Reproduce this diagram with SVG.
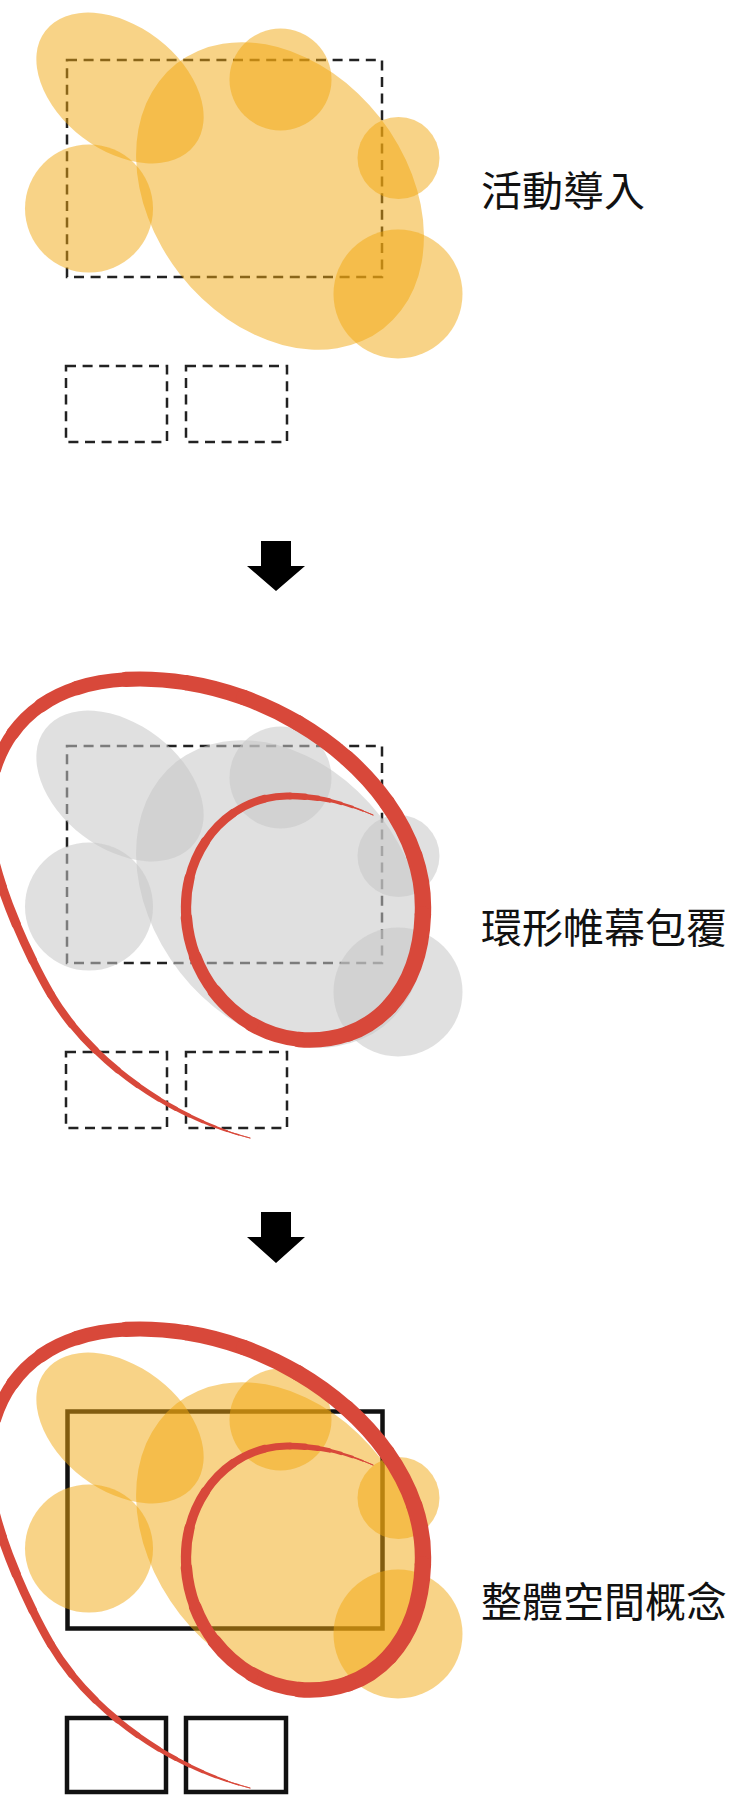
<svg xmlns="http://www.w3.org/2000/svg" xmlns:xlink="http://www.w3.org/1999/xlink" width="734" height="1796" viewBox="0 0 734 1796">
<style>
.o{fill:#f1a70f;fill-opacity:.5}
.g{fill:#c7c7c7;fill-opacity:.55}
.d{fill:none;stroke:#222;stroke-width:2.5;stroke-dasharray:10 6.6}
.s{fill:none;stroke:#111;stroke-width:4.5}
.t{font-family:"Noto Sans CJK TC","Noto Sans CJK SC",sans-serif;font-size:41px;fill:#111}
.r{fill:none;stroke:#d8483a;stroke-linecap:round}
.a{fill:#000}
</style>
<defs>
<g id="blobs">
<ellipse cx="280" cy="196" rx="168" ry="127" transform="rotate(52 280 196)"/>
<ellipse cx="120" cy="88" rx="94" ry="62" transform="rotate(37.4 120 88)"/>
<circle cx="280.5" cy="79.5" r="51"/>
<circle cx="398.5" cy="158" r="41"/>
<circle cx="89" cy="208.5" r="64"/>
<circle cx="398" cy="294" r="64.5"/>
</g>
<path id="sp" pathLength="1726" d="M250,1138 C172,1118 90,1062 50,993 C28,955 -12,870 -12,818 C-12,745 30,679 140,679 C285,679 423,790 423,907 C423,987 378,1040 310,1040 C242,1040 186,980 186,907 C186,846 231,796 287,796 C320,796 345,803 373,815"/>
<g id="spiral" class="r">
<use href="#sp" stroke-width="0.8"/>
<use href="#sp" stroke-width="0.9" stroke-dasharray="12 4000" stroke-dashoffset="0"/>
<use href="#sp" stroke-width="1.4" stroke-dasharray="12 4000" stroke-dashoffset="-12"/>
<use href="#sp" stroke-width="2" stroke-dasharray="12 4000" stroke-dashoffset="-24"/>
<use href="#sp" stroke-width="2.5" stroke-dasharray="14 4000" stroke-dashoffset="-36"/>
<use href="#sp" stroke-width="3.1" stroke-dasharray="15 4000" stroke-dashoffset="-50"/>
<use href="#sp" stroke-width="3.8" stroke-dasharray="15 4000" stroke-dashoffset="-65"/>
<use href="#sp" stroke-width="4.5" stroke-dasharray="20 4000" stroke-dashoffset="-80"/>
<use href="#sp" stroke-width="5.1" stroke-dasharray="25 4000" stroke-dashoffset="-100"/>
<use href="#sp" stroke-width="5.7" stroke-dasharray="25 4000" stroke-dashoffset="-125"/>
<use href="#sp" stroke-width="6.4" stroke-dasharray="30 4000" stroke-dashoffset="-150"/>
<use href="#sp" stroke-width="7" stroke-dasharray="35 4000" stroke-dashoffset="-180"/>
<use href="#sp" stroke-width="7.7" stroke-dasharray="36 4000" stroke-dashoffset="-215"/>
<use href="#sp" stroke-width="8.2" stroke-dasharray="39 4000" stroke-dashoffset="-251"/>
<use href="#sp" stroke-width="8.7" stroke-dasharray="40 4000" stroke-dashoffset="-290"/>
<use href="#sp" stroke-width="9.3" stroke-dasharray="40 4000" stroke-dashoffset="-330"/>
<use href="#sp" stroke-width="9.8" stroke-dasharray="40 4000" stroke-dashoffset="-370"/>
<use href="#sp" stroke-width="10.4" stroke-dasharray="40 4000" stroke-dashoffset="-410"/>
<use href="#sp" stroke-width="11.2" stroke-dasharray="40 4000" stroke-dashoffset="-450"/>
<use href="#sp" stroke-width="12.2" stroke-dasharray="40 4000" stroke-dashoffset="-490"/>
<use href="#sp" stroke-width="13" stroke-dasharray="40 4000" stroke-dashoffset="-530"/>
<use href="#sp" stroke-width="13.8" stroke-dasharray="40 4000" stroke-dashoffset="-570"/>
<use href="#sp" stroke-width="14.5" stroke-dasharray="50 4000" stroke-dashoffset="-610"/>
<use href="#sp" stroke-width="15.1" stroke-dasharray="60 4000" stroke-dashoffset="-660"/>
<use href="#sp" stroke-width="15.3" stroke-dasharray="60 4000" stroke-dashoffset="-720"/>
<use href="#sp" stroke-width="15.5" stroke-dasharray="60 4000" stroke-dashoffset="-780"/>
<use href="#sp" stroke-width="15.8" stroke-dasharray="60 4000" stroke-dashoffset="-840"/>
<use href="#sp" stroke-width="16" stroke-dasharray="60 4000" stroke-dashoffset="-900"/>
<use href="#sp" stroke-width="16.2" stroke-dasharray="60 4000" stroke-dashoffset="-960"/>
<use href="#sp" stroke-width="16.4" stroke-dasharray="60 4000" stroke-dashoffset="-1020"/>
<use href="#sp" stroke-width="16.5" stroke-dasharray="100 4000" stroke-dashoffset="-1080"/>
<use href="#sp" stroke-width="16.1" stroke-dasharray="50 4000" stroke-dashoffset="-1180"/>
<use href="#sp" stroke-width="15.6" stroke-dasharray="50 4000" stroke-dashoffset="-1230"/>
<use href="#sp" stroke-width="14.8" stroke-dasharray="50 4000" stroke-dashoffset="-1280"/>
<use href="#sp" stroke-width="13.8" stroke-dasharray="50 4000" stroke-dashoffset="-1330"/>
<use href="#sp" stroke-width="12.6" stroke-dasharray="40 4000" stroke-dashoffset="-1380"/>
<use href="#sp" stroke-width="11.4" stroke-dasharray="40 4000" stroke-dashoffset="-1420"/>
<use href="#sp" stroke-width="10.3" stroke-dasharray="40 4000" stroke-dashoffset="-1460"/>
<use href="#sp" stroke-width="9.4" stroke-dasharray="40 4000" stroke-dashoffset="-1500"/>
<use href="#sp" stroke-width="8.6" stroke-dasharray="40 4000" stroke-dashoffset="-1540"/>
<use href="#sp" stroke-width="7.8" stroke-dasharray="35 4000" stroke-dashoffset="-1580"/>
<use href="#sp" stroke-width="7.2" stroke-dasharray="25 4000" stroke-dashoffset="-1615"/>
<use href="#sp" stroke-width="6.3" stroke-dasharray="15 4000" stroke-dashoffset="-1640"/>
<use href="#sp" stroke-width="5.4" stroke-dasharray="13 4000" stroke-dashoffset="-1655"/>
<use href="#sp" stroke-width="4.4" stroke-dasharray="12 4000" stroke-dashoffset="-1668"/>
<use href="#sp" stroke-width="3.4" stroke-dasharray="12 4000" stroke-dashoffset="-1680"/>
<use href="#sp" stroke-width="2.5" stroke-dasharray="12 4000" stroke-dashoffset="-1692"/>
<use href="#sp" stroke-width="1.7" stroke-dasharray="11 4000" stroke-dashoffset="-1704"/>
<use href="#sp" stroke-width="1" stroke-dasharray="11 4000" stroke-dashoffset="-1715"/>
</g>
</defs>

<g id="stage1">
<rect class="d" x="67" y="60" width="315" height="217"/>
<rect class="d" x="66" y="366" width="101" height="76"/>
<rect class="d" x="186" y="366" width="101" height="76"/>
<use href="#blobs" class="o"/>
<text class="t" x="481" y="206">活動導入</text>
</g>

<g id="stage2">
<rect class="d" x="67" y="746" width="315" height="217"/>
<rect class="d" x="66" y="1052" width="101" height="76"/>
<rect class="d" x="186" y="1052" width="101" height="76"/>
<use href="#blobs" class="g" transform="translate(0,698)"/>
<use href="#spiral"/>
<text class="t" x="481" y="943">環形帷幕包覆</text>
</g>

<g id="stage3">
<rect class="s" x="67.5" y="1411.5" width="315" height="217"/>
<rect class="s" x="67" y="1718" width="99" height="74"/>
<rect class="s" x="186" y="1718" width="100" height="74"/>
<use href="#blobs" class="o" transform="translate(0,1340)"/>
<use href="#spiral" transform="translate(0,650)"/>
<text class="t" x="481" y="1617">整體空間概念</text>
</g>

<g id="connectors">
<polygon class="a" points="261,541 291,541 291,566 305,566 276,591 247,566 261,566"/>
<polygon class="a" points="261,1212 291,1212 291,1237 305,1237 276,1263 247,1237 261,1237"/>
</g>
</svg>
